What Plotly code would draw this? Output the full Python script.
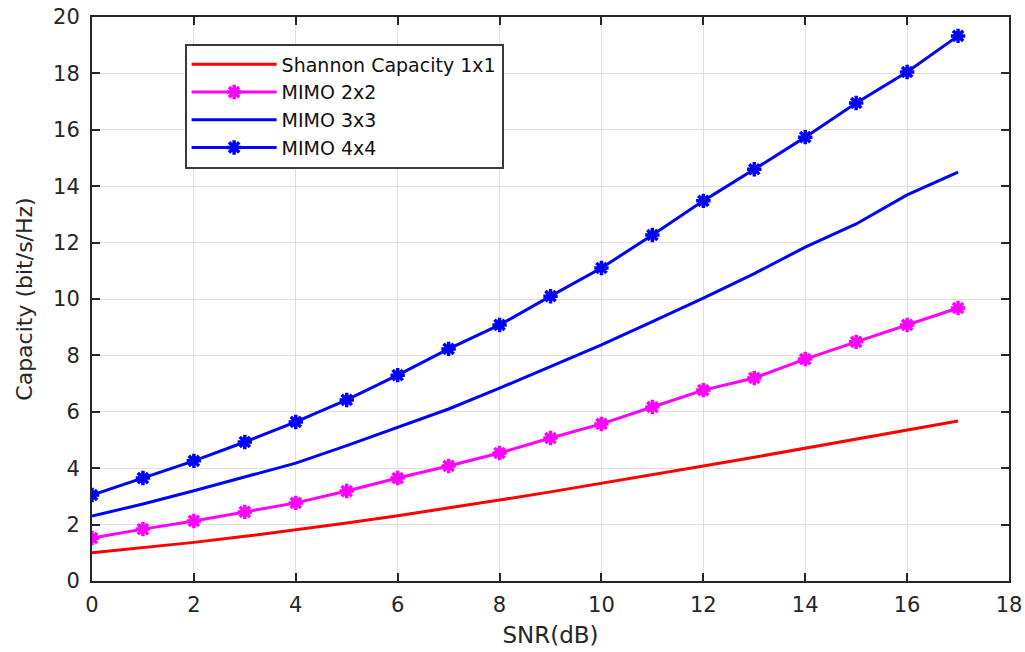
import plotly.graph_objects as go

snr = list(range(0, 18))
shannon_1x1 = [1.000, 1.176, 1.370, 1.583, 1.812, 2.057, 2.317, 2.588, 2.870, 3.161,
               3.459, 3.764, 4.075, 4.389, 4.707, 5.028, 5.351, 5.676]
mimo_2x2 = [1.52, 1.84, 2.13, 2.45, 2.77, 3.19, 3.65, 4.08, 4.54, 5.07,
            5.57, 6.17, 6.77, 7.20, 7.87, 8.48, 9.08, 9.68]
mimo_3x3 = [2.30, 2.73, 3.20, 3.68, 4.18, 4.80, 5.46, 6.10, 6.84, 7.60,
            8.37, 9.20, 10.03, 10.90, 11.84, 12.66, 13.69, 14.50]
mimo_4x4 = [3.05, 3.65, 4.26, 4.93, 5.64, 6.42, 7.30, 8.23, 9.08, 10.10,
            11.10, 12.27, 13.48, 14.60, 15.74, 16.95, 18.05, 19.33]

x_ticks = list(range(0, 19, 2))
y_ticks = list(range(0, 21, 2))

FONT = "DejaVu Sans, Liberation Sans, Arial, sans-serif"
AX = "#262626"

fig = go.Figure()
fig.add_trace(go.Scatter(x=snr, y=shannon_1x1, mode="lines", name="Shannon Capacity 1x1",
                         line=dict(color="#FF0000", width=3)))
fig.add_trace(go.Scatter(x=snr, y=mimo_2x2, mode="lines+markers", name="MIMO 2x2",
                         line=dict(color="#FF00FF", width=3),
                         marker=dict(symbol="asterisk-open", size=12, color="#FF00FF",
                                     line=dict(color="#FF00FF", width=3.5))))
fig.add_trace(go.Scatter(x=snr, y=mimo_3x3, mode="lines", name="MIMO 3x3",
                         line=dict(color="#0000FF", width=3)))
fig.add_trace(go.Scatter(x=snr, y=mimo_4x4, mode="lines+markers", name="MIMO 4x4",
                         line=dict(color="#0000FF", width=3),
                         marker=dict(symbol="asterisk-open", size=12, color="#0000FF",
                                     line=dict(color="#0000FF", width=3.5))))

axis_common = dict(
    showline=True, linecolor=AX, linewidth=2, mirror="ticks",
    ticks="inside", ticklen=8, tickwidth=1.5, tickcolor=AX,
    showgrid=True, gridcolor="#E0E0E0", gridwidth=1.2, zeroline=False,
    tickfont=dict(family=FONT, size=21, color=AX),
    automargin=False,
)

fig.update_layout(
    width=1025, height=652,
    margin=dict(l=92, r=16, t=17, b=71),
    paper_bgcolor="white", plot_bgcolor="white",
    font=dict(family=FONT, color=AX),
    xaxis=dict(range=[0, 18], tickvals=x_ticks, ticklabelstandoff=4,
               title=dict(text="SNR(dB)", font=dict(family=FONT, size=23, color=AX), standoff=11),
               **axis_common),
    yaxis=dict(range=[0, 20], tickvals=y_ticks, ticklabelstandoff=6,
               title=dict(text="Capacity (bit/s/Hz)", font=dict(family=FONT, size=22, color=AX), standoff=14),
               **axis_common),
    legend=dict(x=0.101, y=0.953, xanchor="left", yanchor="top",
                bgcolor="white", bordercolor="#3a3a3a", borderwidth=2,
                font=dict(family=FONT, size=19, color="#111111"),
                tracegroupgap=0, itemwidth=85),
    showlegend=True,
)

fig.write_html("out.html")
